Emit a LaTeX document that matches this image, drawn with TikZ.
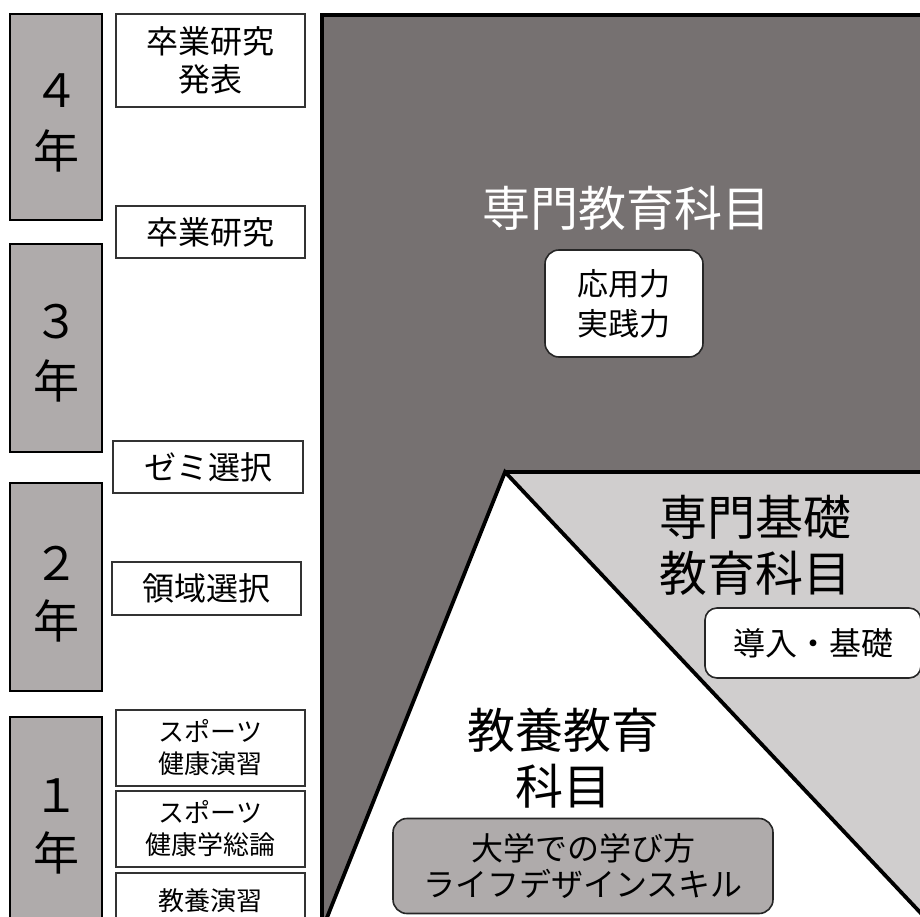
\documentclass[tikz,border=0pt]{standalone}
\usepackage{fontspec}
\setmainfont{Noto Sans CJK JP}
\definecolor{panelgray}{HTML}{767171}
\definecolor{basegray}{HTML}{D0CECE}
\definecolor{yeargray}{HTML}{AFABAB}
\tikzset{
  yearbox/.style={draw=black, line width=2pt, fill=yeargray, inner sep=0pt},
  yeartext/.style={font=\fontsize{46pt}{50pt}\selectfont, inner sep=0pt},
  labelbox/.style={draw=black!80, line width=1.4pt, fill=white, inner sep=0pt, align=center,
    font=\fontsize{32pt}{38pt}\selectfont},
  smallbox/.style={labelbox, font=\fontsize{26pt}{32pt}\selectfont},
  roundbox/.style={draw=black!85, line width=1.6pt, rounded corners=14pt, inner sep=0pt, align=center,
    font=\fontsize{32pt}{36pt}\selectfont},
  title/.style={font=\fontsize{48pt}{56pt}\selectfont, align=center, inner sep=0pt},
  edge/.style={line width=3.8pt, black, line join=miter}
}
\begin{document}
\begin{tikzpicture}[x=1pt,y=-1pt]
\useasboundingbox (0,0) rectangle (920,917);
\clip (0,0) rectangle (920,917);
% coordinates of the big panel
\coordinate (pTL) at (322,15);
\coordinate (pTR) at (930,15);
\coordinate (pBL) at (322,930);
\coordinate (pBR) at (930,930);
\coordinate (apex) at (505,472);
\coordinate (topR) at (930,472);
\coordinate (triL) at (324,925);
\coordinate (triR) at (932,925);
% dark panel
\fill[panelgray] (pTL) rectangle (pBR);
% light grey base region
\fill[basegray] (apex) rectangle (pBR);
% white triangle
\fill[white] (apex) -- (triL) -- (triR) -- cycle;
% outlines
\draw[edge] (pBL) -- (pTL) -- (pTR);
\draw[edge] (triL) -- (apex) -- (triR);
\draw[edge] (apex) -- (topR);

% titles
\node[title, text=white] (senmon) at (626,208) {専門教育科目};
\node[roundbox, fill=white, minimum width=158pt, minimum height=107pt, font=\fontsize{31pt}{40pt}\selectfont] (ouyou) at (624,303.5) {応用力\\実践力};
\node[title] (kiso) at (755,545) {専門基礎\\教育科目};
\node[roundbox, fill=white, rounded corners=12pt, minimum width=216pt, minimum height=70pt] (dounyu) at (813,643) {導入・基礎};
\node[title] (kyouyou) at (563,758) {教養教育\\科目};
\node[roundbox, fill=yeargray, minimum width=380pt, minimum height=95pt] (daigaku) at (583,866) {大学での学び方\\ライフデザインスキル};

% year boxes
\node[yearbox, minimum width=92pt, minimum height=206pt] (y4) at (56,117) {};
\node[yeartext] (y4n) at (56,91) {４};
\node[yeartext] (y4k) at (56,151) {年};
\node[yearbox, minimum width=92pt, minimum height=208pt] (y3) at (56,348) {};
\node[yeartext] (y3n) at (56,322) {３};
\node[yeartext] (y3k) at (56,381) {年};
\node[yearbox, minimum width=92pt, minimum height=208pt] (y2) at (56,587) {};
\node[yeartext] (y2n) at (56,563) {２};
\node[yeartext] (y2k) at (56,621) {年};
\node[yearbox, minimum width=92pt, minimum height=220pt] (y1) at (56,827) {};
\node[yeartext] (y1n) at (56,796) {１};
\node[yeartext] (y1k) at (56,853) {年};

% event boxes
\node[labelbox, minimum width=189pt, minimum height=93pt] (b1) at (210.5,60.5) {卒業研究\\発表};
\node[labelbox, minimum width=189pt, minimum height=52pt] (b2) at (210.5,232) {卒業研究};
\node[labelbox, minimum width=190pt, minimum height=52pt] (b3) at (208,467) {ゼミ選択};
\node[labelbox, minimum width=189pt, minimum height=53pt] (b4) at (206.5,588.5) {領域選択};
\node[smallbox, minimum width=189pt, minimum height=76pt] (b5) at (210.5,748) {スポーツ\\健康演習};
\node[smallbox, minimum width=189pt, minimum height=76pt] (b6) at (210.5,829) {スポーツ\\健康学総論};
\node[smallbox, minimum width=189pt, minimum height=56pt] (b7) at (210.5,901) {教養演習};
\end{tikzpicture}
\end{document}
